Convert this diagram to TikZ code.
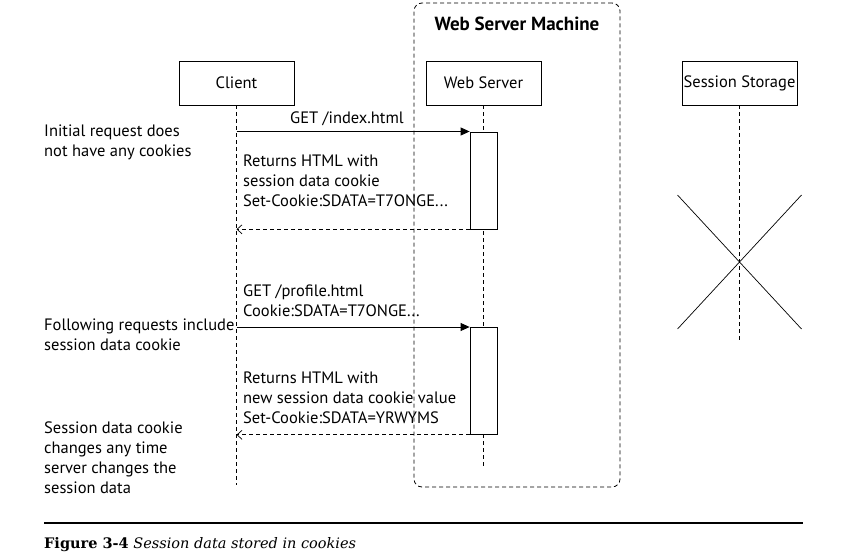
\documentclass[tikz,border=0pt]{standalone}
\usepackage{fontspec}
\setmainfont{PT Sans}
\newfontfamily\captionfont{DejaVu Serif}
\usetikzlibrary{positioning, arrows.meta}
\newcommand\Lines[1]{%
  \begin{tabular}[t]{@{}l@{}}#1\end{tabular}}

\begin{document}
\begin{tikzpicture}[x=1pt, y=-1pt,
font=\fontsize{16.5}{20}\selectfont,
actor/.style={
  draw, line width=0.8pt,
  minimum width=115pt, minimum height=44pt,
  inner sep=0pt
},
act/.style={draw, line width=0.8pt, fill=white, minimum width=27pt, inner sep=0pt},
life/.style={line width=0.7pt, dash pattern=on 4pt off 3pt},
call/.style={line width=0.8pt, -{Triangle[length=9pt,width=8pt]}},
reply/.style={line width=0.7pt, dash pattern=on 4pt off 3pt, -{Straight Barb[length=5pt,width=9pt]}},
note/.style={anchor=base west, inner sep=0pt}]
\useasboundingbox (0,0) rectangle (842,559);

% the machine frame
\node (machine) [draw, line width=0.8pt, dash pattern=on 4pt off 3pt,
  rounded corners=8pt, minimum width=206pt, minimum height=484pt] at (517,245) {};
\node (machinetitle) [font=\fontsize{19}{20}\selectfont\bfseries] at (517,24) {Web Server Machine};

% actors and lifelines
\node (client) [actor] at (236.5,83) {Client};
\node (server) [actor] at (483.5,83) {Web Server};
\node (storage) [actor] at (739.5,83) {Session Storage};
\coordinate (clientend) at (client.south |- 0,485);
\coordinate (serverend) at (server.south |- 0,467);
\coordinate (storageend) at (storage.south |- 0,340);
\draw[life] (client.south) -- (clientend);
\draw[life] (server.south) -- (serverend);
\draw[life] (storage.south) -- (storageend);

% storage is gone
\coordinate (storagex) at (storage.south |- 0,262);
\draw[line width=0.7pt] (storagex) ++(-62,-67) -- ++(124,134);
\draw[line width=0.7pt] (storagex) ++(62,-67) -- ++(-124,134);

% activations
\node (act1) [act, minimum height=97pt, anchor=north] at (server.south |- 0,131.5) {};
\node (act2) [act, minimum height=107pt, anchor=north] at (server.south |- 0,327) {};

% first request
\draw[call] (client.south |- act1.north west) -- (act1.north west);
\node (get1) [anchor=base] at (347,124) {GET /index.html};
\draw[reply] (act1.south west) -- (client.south |- act1.south west);
\node (ret1) [note] at (243,166) {\Lines{Returns HTML with\\session data cookie\\Set-Cookie:SDATA=T7ONGE...}};

% following request
\draw[call] (client.south |- act2.north west) -- (act2.north west);
\node (get2) [note] at (243,296) {\Lines{GET /profile.html\\Cookie:SDATA=T7ONGE...}};
\draw[reply] (act2.south west) -- (client.south |- act2.south west);
\node (ret2) [note] at (243,383) {\Lines{Returns HTML with\\new session data cookie value\\Set-Cookie:SDATA=YRWYMS}};

% notes on the left
\node (note1) [note] at (44,136) {\Lines{Initial request does\\not have any cookies}};
\node (note2) [note] at (44,330) {\Lines{Following requests include\\session data cookie}};
\node (note3) [note] at (44,433) {\Lines{Session data cookie\\changes any time\\server changes the\\session data}};

% caption
\draw[line width=1.2pt] (44,523) -- (803,523);
\node (caption) [note, font=\captionfont\fontsize{14.5}{17}\selectfont] at (44,548)
  {\textbf{Figure 3-4} \textit{Session data stored in cookies}};
\end{tikzpicture}
\end{document}
